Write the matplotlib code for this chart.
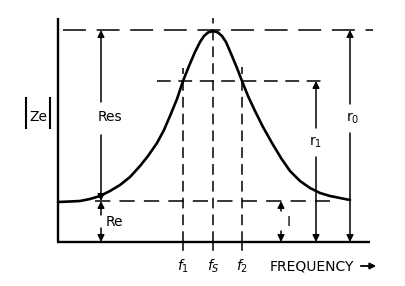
import numpy as np
from matplotlib import pyplot as plt

plt.rcParams['mathtext.fontset'] = 'dejavusans'

# resonance curve |Ze| against frequency (x: frequency units, y: impedance units above baseline)
curve_x = [58, 70, 80, 90, 100, 110, 120, 130, 140, 148, 157, 164, 170,
           177, 183, 189, 195, 200, 204, 208, 213, 218, 222, 226, 232,
           237, 242, 248, 255, 263, 272, 281, 290, 300, 310, 320, 330,
           340, 350]
curve_y = [40, 40.5, 41, 43, 46, 51, 57, 65, 76, 86, 99, 112, 126,
           143, 161, 176, 190, 200, 206, 209.5, 211, 209.5, 206, 200, 186,
           174, 161, 146, 131, 115, 99, 84, 71, 61, 54, 49, 46,
           44, 42]

# characteristic levels
level_re = 41
level_r1 = 161
level_r0 = 212

# characteristic frequencies
freq_x = [183, 213, 242]
freq_labels = [r"$f_{\mathregular{1}}$", r"$f_S$", r"$f_2$"]
freq_top = [174, 224, 175]

K = 'black'

fig = plt.figure(figsize=(4.05, 2.86), dpi=100)
ax = fig.add_axes([0, 0, 1, 1])
ax.set_xlim(0, 405)
ax.set_ylim(-44, 242)
ax.axis("off")

# axes
ax.plot([58, 58], [0, 224], "-", color=K, lw=1.7, solid_capstyle='butt')
ax.plot([57, 370], [0, 0], "-", color=K, lw=1.7, solid_capstyle='butt')

# curve
ax.plot(curve_x, curve_y, "-", color=K, lw=1.9,
        solid_joinstyle='round', solid_capstyle='round')

# dashed level lines
ax.plot([63, 373], [level_r0, level_r0], color=K, lw=1.1, dashes=(15, 7))
ax.plot([157, 323], [level_r1, level_r1], color=K, lw=1.1, dashes=(9, 5))
ax.plot([95, 330], [level_re, level_re], color=K, lw=1.1, dashes=(10, 6))

# frequency markers
for fx, top, lab in zip(freq_x, freq_top, freq_labels):
    ax.plot([fx, fx], [0, top], color=K, lw=1.1, dashes=(7, 4))
    ax.plot([fx, fx], [0, -8], "-", color=K, lw=1.1)
    ax.text(fx, -24, lab, ha="center", va="center", fontsize=10)

ax.text(270, -24, "FREQUENCY", ha="left", va="center", fontsize=10)
ax.annotate("", xy=(379, -24), xytext=(358, -24),
            arrowprops=dict(arrowstyle="-|>", color=K, lw=1.3,
                            mutation_scale=9))


def dim(x, top, bottom, gap_top, gap_bottom, label, lx, ly, ha="center"):
    ap = dict(arrowstyle="-|>", color=K, lw=1.1, mutation_scale=10,
              shrinkA=0, shrinkB=0)
    ax.annotate("", xy=(x, top), xytext=(x, gap_top), arrowprops=ap)
    ax.annotate("", xy=(x, bottom), xytext=(x, gap_bottom), arrowprops=ap)
    ax.text(lx, ly, label, ha=ha, va="center", fontsize=10)


dim(101, level_r0, level_re, 140, 107, "Res", 110, 125)
dim(101, level_re, 0, 27, 14, "Re", 106, 20, ha="left")
dim(281, level_re, 0, 31, 11, "I", 289, 20)
dim(316, level_r1, 0, 114, 85, r"$\mathregular{r_1}$", 316, 100)
dim(350, level_r0, 0, 138, 109, r"$\mathregular{r_0}$", 353, 124)

# |Ze| label
ax.plot([26, 26], [114, 144], "-", color=K, lw=1.5)
ax.plot([50, 50], [114, 144], "-", color=K, lw=1.5)
ax.text(38, 125, "Ze", ha="center", va="center", fontsize=10)

fig.savefig("out.png", dpi=100)
